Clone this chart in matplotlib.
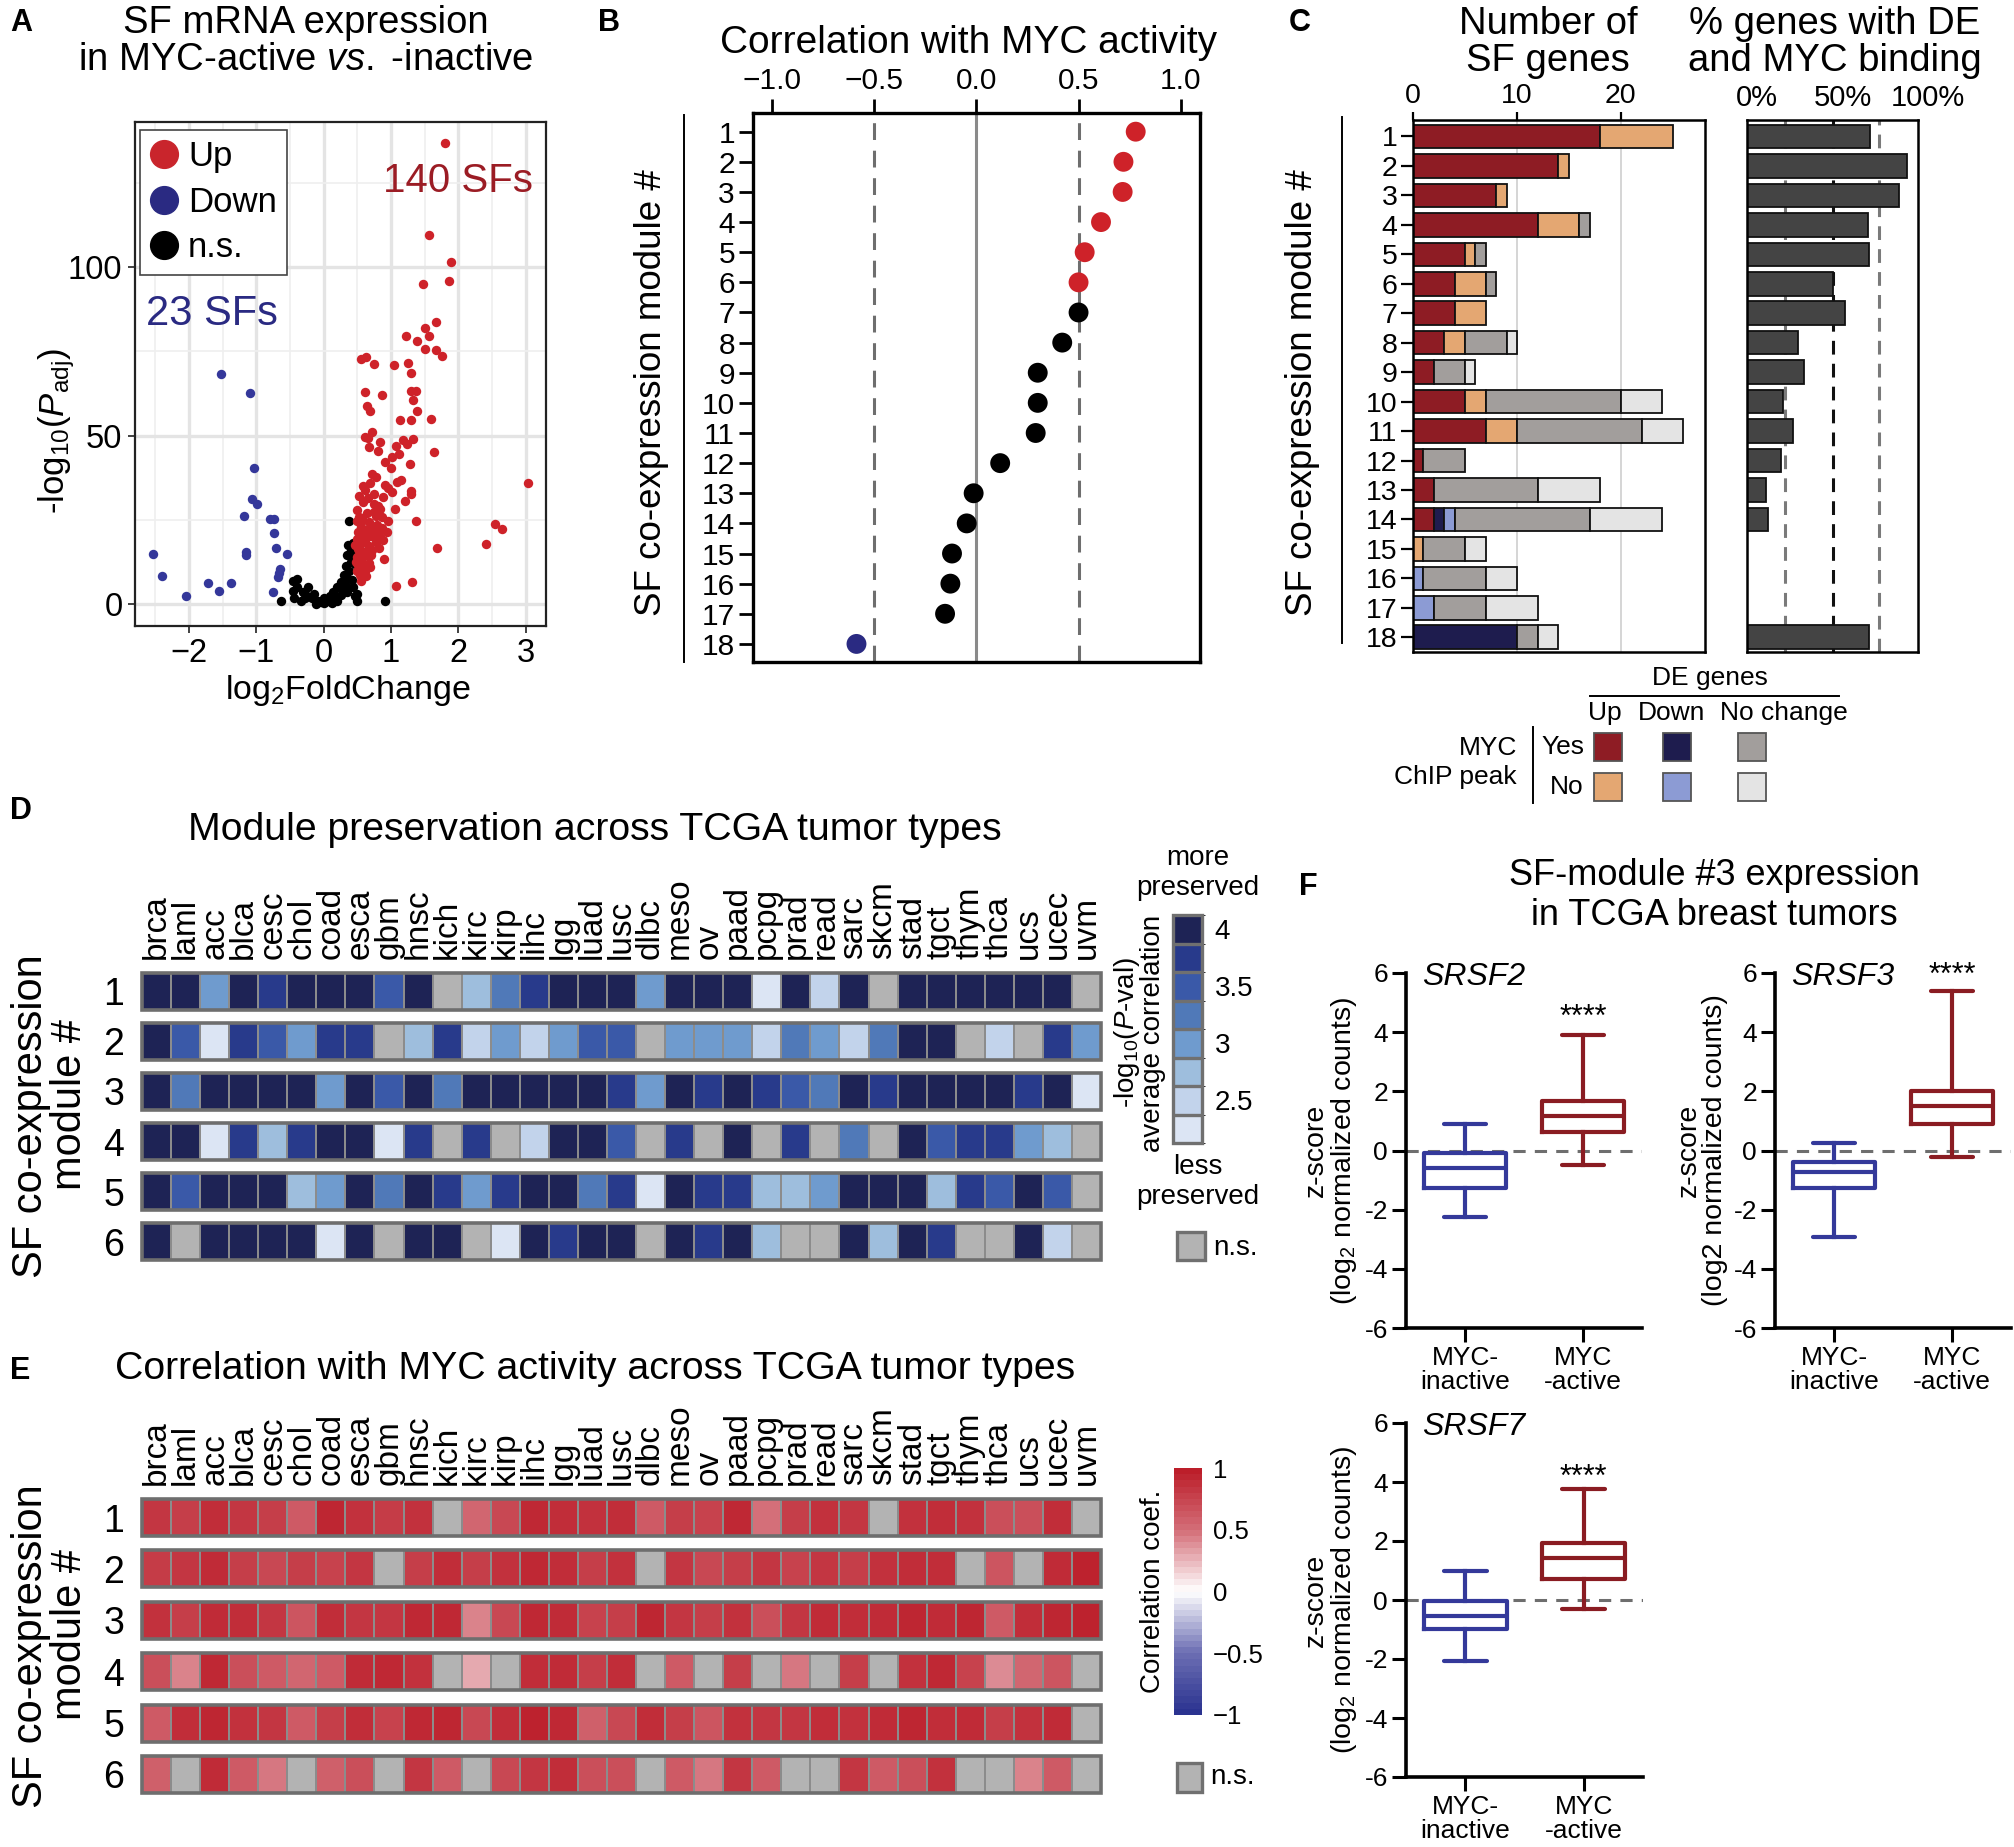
import numpy as np
import matplotlib
matplotlib.use('Agg')
import matplotlib.pyplot as plt
from matplotlib import font_manager as fm
from matplotlib.colors import ListedColormap, BoundaryNorm, LinearSegmentedColormap, Normalize
from matplotlib.patches import Rectangle
from matplotlib.lines import Line2D
from matplotlib.cm import ScalarMappable
import matplotlib.transforms as mtransforms
from matplotlib.ticker import FuncFormatter, FixedLocator, FixedFormatter

# ======================= DATA =======================
# Panel A : volcano plot (log2FoldChange, -log10 Padj)
up_x = [1.80, 1.57, 1.89, 1.86, 1.47, 1.50, 1.66, 1.22, 1.38, 1.56,
        1.51, 1.66, 1.76, 0.55, 0.63, 0.75, 1.05, 1.25, 1.30, 1.30,
        1.37, 1.33, 1.38, 0.61, 0.86, 0.64, 0.69, 1.13, 1.29, 1.60,
        0.72, 0.66, 0.62, 0.83, 1.33, 1.18, 1.24, 1.07, 0.67, 0.80,
        1.64, 1.12, 1.02, 0.91, 1.28, 1.00, 0.72, 0.78, 1.15, 1.09,
        0.69, 0.91, 0.95, 1.01, 0.62, 0.75, 0.52, 1.30, 1.29, 0.88,
        1.20, 0.74, 0.80, 1.06, 0.49, 0.65, 0.86, 1.37, 0.56, 0.68,
        0.79, 0.55, 0.87, 0.64, 0.51, 0.75, 0.59, 0.70, 0.83, 0.49,
        0.62, 0.78, 0.54, 0.67, 1.68, 0.51, 0.72, 0.58, 0.64, 0.49,
        0.90, 0.56, 0.67, 0.51, 0.61, 0.49, 0.55, 0.54, 1.07, 1.31,
        2.41, 2.55, 2.65, 3.03, 0.46, 0.83, 0.96, 0.77, 0.57, 0.71,
        0.82, 0.94, 0.50, 0.62, 0.58, 0.53, 0.60, 0.66, 0.71, 0.57,
        0.63, 0.69, 0.52, 0.74, 0.58, 0.66, 0.81, 0.88, 0.55, 0.48]
up_y = [136.8, 109.5, 101.6, 95.8, 95.0, 81.9, 83.6, 79.7, 78.0, 79.7,
        75.7, 75.3, 73.7, 72.6, 73.4, 71.2, 70.9, 71.5, 68.5, 63.4,
        63.4, 60.7, 57.4, 63.0, 62.2, 58.7, 57.3, 54.6, 54.7, 55.1,
        51.0, 49.2, 49.5, 48.2, 49.1, 48.6, 47.5, 47.1, 46.8, 45.4,
        45.3, 44.7, 43.7, 42.3, 41.7, 40.4, 38.6, 37.9, 36.8, 36.3,
        35.9, 35.5, 34.5, 33.2, 33.8, 32.7, 32.2, 33.6, 32.7, 31.8,
        30.6, 29.7, 29.3, 28.4, 28.1, 27.0, 25.9, 24.8, 24.3, 24.3,
        23.6, 22.9, 22.6, 22.2, 21.6, 21.3, 20.5, 20.2, 19.9, 19.5,
        18.8, 18.4, 17.7, 17.2, 16.8, 16.4, 16.1, 15.4, 14.7, 14.1,
        13.4, 13.1, 12.3, 11.7, 10.9, 10.0, 9.3, 8.6, 5.5, 6.5,
        17.9, 23.9, 22.5, 36.0, 17.5, 28.4, 24.6, 26.3, 25.6, 14.5,
        16.8, 21.6, 24.6, 10.0, 30.5, 26.0, 19.0, 16.0, 23.0, 12.0,
        8.5, 11.0, 14.5, 27.5, 35.0, 31.5, 21.0, 19.0, 7.0, 12.5]
down_x = [-1.53, -1.09, -1.04, -1.06, -0.99, -1.18, -0.80, -0.73, -0.73, -0.71,
          -1.15, -1.15, -0.55, -2.53, -2.40, -1.72, -1.38, -1.55, -2.04, -0.75,
          -0.68, -0.65, -0.66]
down_y = [68.2, 62.8, 40.4, 31.1, 29.7, 26.3, 25.2, 25.2, 21.3, 16.6,
          15.4, 14.5, 15.0, 15.0, 8.3, 6.3, 6.3, 4.1, 2.5, 3.8,
          8.2, 10.6, 9.3]
ns_x = [0.38, 0.43, 0.41, 0.35, 0.40, 0.33, 0.38, 0.30, 0.35, 0.25,
        0.31, 0.20, 0.27, 0.43, 0.46, 0.50, 0.14, 0.09, 0.05, 0.00,
        -0.04, -0.09, -0.17, -0.24, -0.31, -0.39, -0.45, -0.39, -0.46, -0.28,
        -0.34, -0.44, -0.64, 0.91, 0.20, 0.12, -0.12, 0.25, 0.34, 0.49,
        0.42, 0.46, 0.45, 0.36, -0.23, -0.15, 0.01, 0.17]
ns_y = [24.6, 18.1, 16.1, 14.5, 12.7, 11.3, 10.0, 8.6, 7.6, 6.5,
        5.9, 5.2, 4.5, 5.2, 2.5, 1.1, 3.8, 2.5, 1.1, 0.4,
        0.7, 1.1, 1.8, 2.5, 3.8, 5.2, 4.1, 7.6, 6.8, 1.8,
        1.1, 2.0, 1.1, 1.1, 1.1, 0.4, 0.0, 2.7, 3.8, 3.1,
        7.2, 12.0, 14.1, 17.5, 5.2, 3.1, 1.8, 1.8]
a_up_count = '140 SFs'
a_down_count = '23 SFs'

# Panel B : correlation of each SF module with MYC activity
modules = list(range(1, 19))
myc_corr = [0.78, 0.72, 0.716, 0.61, 0.53, 0.50, 0.50, 0.42, 0.30, 0.30,
            0.29, 0.116, -0.014, -0.048, -0.12, -0.128, -0.154, -0.588]
corr_class = ['up'] * 6 + ['ns'] * 11 + ['down']

# Panel C : number of SF genes per module, by DE status and MYC ChIP peak
c_up_yes   = [18, 14, 8, 12, 5, 4, 4, 3, 2, 5, 7, 1, 2, 2, 0, 0, 0, 0]
c_up_no    = [7, 1, 1, 4, 1, 3, 3, 2, 0, 2, 3, 0, 0, 0, 1, 0, 0, 0]
c_down_yes = [0, 0, 0, 0, 0, 0, 0, 0, 0, 0, 0, 0, 0, 1, 0, 0, 0, 10]
c_down_no  = [0, 0, 0, 0, 0, 0, 0, 0, 0, 0, 0, 0, 0, 1, 0, 1, 2, 0]
c_nc_yes   = [0, 0, 0, 1, 1, 1, 0, 4, 3, 13, 12, 4, 10, 13, 4, 6, 5, 2]
c_nc_no    = [0, 0, 0, 0, 0, 0, 0, 1, 1, 4, 4, 0, 6, 7, 2, 3, 5, 2]
c_pct_lines_gray = [22.5, 77.0]
c_pct_line_black = 50.0

# Panels D / E : TCGA tumor types
tumors = ['brca', 'laml', 'acc', 'blca', 'cesc', 'chol', 'coad', 'esca', 'gbm', 'hnsc',
          'kich', 'kirc', 'kirp', 'lihc', 'lgg', 'luad', 'lusc', 'dlbc', 'meso', 'ov',
          'paad', 'pcpg', 'prad', 'read', 'sarc', 'skcm', 'stad', 'tgct', 'thym', 'thca',
          'ucs', 'ucec', 'uvm']
NA = np.nan
# -log10(P-val) average correlation (module preservation); NaN = n.s.
preserv = [
    [4.0, 4.0, 3.0, 4.0, 3.75, 4.0, 4.0, 4.0, 3.5, 4.0, NA, 2.75, 3.25, 3.75, 4.0, 4.0, 4.0, 3.0, 4.0, 4.0,
     4.0, 2.25, 4.0, 2.5, 4.0, NA, 4.0, 4.0, 4.0, 4.0, 4.0, 4.0, NA],
    [4.0, 3.5, 2.25, 3.75, 3.5, 3.0, 3.75, 3.75, NA, 2.75, 3.75, 2.5, 3.0, 2.5, 3.0, 3.5, 3.5, NA, 3.0, 3.0,
     3.0, 2.5, 3.25, 3.0, 2.5, 3.25, 4.0, 4.0, NA, 2.5, NA, 3.75, 3.0],
    [4.0, 3.25, 4.0, 4.0, 4.0, 4.0, 3.0, 4.0, 3.5, 4.0, 3.25, 4.0, 4.0, 4.0, 4.0, 4.0, 3.75, 3.0, 4.0, 3.75,
     4.0, 3.75, 3.5, 3.25, 4.0, 3.75, 4.0, 4.0, 4.0, 4.0, 3.75, 4.0, 2.25],
    [4.0, 4.0, 2.25, 3.75, 2.75, 3.75, 4.0, 4.0, 2.25, 3.75, NA, 3.75, NA, 2.5, 4.0, 4.0, 3.5, NA, 3.75, NA,
     4.0, NA, 3.75, NA, 3.25, NA, 4.0, 3.5, 3.75, 3.75, 3.0, 2.75, NA],
    [4.0, 3.5, 4.0, 4.0, 4.0, 2.75, 3.0, 4.0, 3.25, 4.0, 3.75, 3.0, 3.75, 4.0, 4.0, 3.25, 3.75, 2.25, 4.0, 3.75,
     3.75, 2.75, 2.75, 3.0, 4.0, 4.0, 4.0, 2.75, 3.75, 3.5, 4.0, 3.5, NA],
    [4.0, NA, 4.0, 4.0, 4.0, 4.0, 2.25, 4.0, NA, 4.0, 4.0, NA, 2.25, 4.0, 3.75, 4.0, 4.0, NA, 4.0, 3.75,
     4.0, 2.75, NA, NA, 4.0, 2.75, 4.0, 3.75, NA, NA, 4.0, 2.5, NA],
]
# correlation coefficient with MYC activity; NaN = n.s.
myc_tumor_corr = [
    [0.85, 0.80, 0.90, 0.85, 0.80, 0.63, 0.95, 0.88, 0.82, 0.88, NA, 0.56, 0.74, 0.93, 0.90, 0.88, 0.90, 0.63, 0.80, 0.78,
     0.93, 0.50, 0.80, 0.88, 0.85, NA, 0.88, 0.90, 0.88, 0.70, 0.70, 0.90, NA],
    [0.82, 0.85, 0.92, 0.80, 0.74, 0.80, 0.78, 0.85, NA, 0.80, 0.90, 0.80, 0.88, 0.93, 0.90, 0.80, 0.88, NA, 0.85, 0.74,
     0.80, 0.85, 0.78, 0.85, 0.80, 0.88, 0.90, 0.90, NA, 0.66, NA, 0.92, 0.97],
    [0.88, 0.80, 0.92, 0.90, 0.85, 0.66, 0.90, 0.85, 0.85, 0.93, 0.93, 0.43, 0.74, 0.93, 0.92, 0.78, 0.80, 0.95, 0.85, 0.80,
     0.88, 0.70, 0.85, 0.92, 0.90, 0.92, 0.95, 0.92, 0.95, 0.63, 0.90, 0.95, 0.97],
    [0.70, 0.43, 0.93, 0.70, 0.63, 0.56, 0.63, 0.92, 0.93, 0.88, NA, 0.30, NA, 0.90, 0.92, 0.80, 0.90, NA, 0.63, NA,
     0.80, NA, 0.47, NA, 0.80, NA, 0.88, 0.93, 0.78, 0.40, 0.56, 0.66, NA],
    [0.63, 0.90, 0.95, 0.88, 0.85, 0.63, 0.80, 0.90, 0.78, 0.93, 0.95, 0.74, 0.90, 0.97, 0.93, 0.60, 0.74, 0.90, 0.80, 0.66,
     0.88, 0.85, 0.85, 0.90, 0.88, 0.92, 0.95, 0.90, 0.92, 0.80, 0.88, 0.92, NA],
    [0.60, NA, 0.92, 0.63, 0.47, NA, 0.60, 0.70, NA, 0.85, 0.63, NA, 0.74, 0.85, 0.90, 0.70, 0.70, NA, 0.63, 0.47,
     0.85, 0.63, NA, NA, 0.85, 0.63, 0.70, 0.88, NA, NA, 0.43, 0.63, NA],
]
heat_rows = [1, 2, 3, 4, 5, 6]
preserv_levels = [2.25, 2.5, 2.75, 3.0, 3.25, 3.5, 3.75, 4.0]
preserv_ticks = [2.5, 3.0, 3.5, 4.0]
corr_ticks = [-1, -0.5, 0, 0.5, 1]
corr_ticklabels = ['\u22121', '\u22120.5', '0', '0.5', '1']

# Panel F : box plots (whislo, q1, median, q3, whishi)
f_genes = ['SRSF2', 'SRSF3', 'SRSF7']
f_groups = ['MYC-\ninactive', 'MYC\n-active']
f_inactive = [(-2.26, -1.28, -0.59, -0.10, 0.91),
              (-2.94, -1.28, -0.73, -0.38, 0.27),
              (-2.07, -0.97, -0.54, -0.02, 0.98)]
f_active = [(-0.50, 0.63, 1.17, 1.67, 3.89),
            (-0.22, 0.91, 1.52, 2.01, 5.39),
            (-0.32, 0.70, 1.41, 1.94, 3.75)]
f_star_y = [4.48, 5.90, 4.14]
f_yticks = [-6, -4, -2, 0, 2, 4, 6]

# ======================= STYLE =======================
def has_font(name):
    try:
        fm.findfont(fm.FontProperties(family=name), fallback_to_default=False)
        return True
    except Exception:
        return False

REG = 'Liberation Sans' if has_font('Liberation Sans') else 'DejaVu Sans'
if has_font('Liberation Sans Narrow'):
    NAR, NSC = 'Liberation Sans Narrow', 1.0
else:
    NAR, NSC = REG, 0.83

plt.rcParams.update({
    'font.family': [REG, 'DejaVu Sans'],
    'mathtext.fontset': 'custom',
    'mathtext.rm': REG,
    'mathtext.it': REG + ':italic',
    'mathtext.bf': REG + ':bold',
    'axes.unicode_minus': True,
})

W, H, DPI = 2015, 1847, 100
fig = plt.figure(figsize=(W / DPI, H / DPI), dpi=DPI)
fig.patch.set_facecolor('white')


def px_axes(l, t, r, b):
    return fig.add_axes([l / W, 1 - b / H, (r - l) / W, (b - t) / H])


def ftext(x, y, s, **kw):
    kw.setdefault('ha', 'center')
    kw.setdefault('va', 'center')
    return fig.text(x / W, 1 - y / H, s, **kw)


def fline(xs, ys, **kw):
    fig.add_artist(Line2D([x / W for x in xs], [1 - y / H for y in ys],
                          transform=fig.transFigure, **kw))


def frect(x0, y0, x1, y1, **kw):
    fig.add_artist(Rectangle((x0 / W, 1 - y1 / H), (x1 - x0) / W, (y1 - y0) / H,
                             transform=fig.transFigure, **kw))


RED_PT = '#CE2229'
BLUE_PT = '#34379A'
NAVY = '#2A2A82'
DARKRED_TXT = '#9B1C24'

# panel letters
for lx, ly, L in [(10, 23, 'A'), (598, 23, 'B'), (1289, 23, 'C'),
                  (10, 811, 'D'), (10, 1371, 'E'), (1299, 887, 'F')]:
    ftext(lx, ly, L, ha='left', fontsize=22, fontweight='bold')

# ======================= PANEL A =======================
ftext(306, 23, 'SF mRNA expression', fontsize=27.5)
ftext(306, 60, r'in MYC-active $\mathit{vs.}\;$-inactive', fontsize=27.5)
axA = px_axes(135, 122, 546, 626)
axA.set_xlim(-2.8, 3.3)
axA.set_ylim(-6.4, 143)
axA.set_xticks([-2, -1, 0, 1, 2, 3])
axA.set_yticks([0, 50, 100])
axA.set_xticks([-2.5, -1.5, -0.5, 0.5, 1.5, 2.5], minor=True)
axA.set_yticks([25, 75, 125], minor=True)
axA.grid(which='major', color='#E4E4E4', lw=2.4)
axA.grid(which='minor', color='#EFEFEF', lw=1.2)
axA.set_axisbelow(True)
axA.tick_params(which='minor', length=0)
axA.tick_params(which='major', length=5, width=1.3, color='#333333', labelsize=23.5, pad=4)
for s in axA.spines.values():
    s.set_linewidth(1.6)
    s.set_color('#222222')
axA.scatter(ns_x, ns_y, s=46, color='black', lw=0, zorder=3)
axA.scatter(up_x, up_y, s=46, color=RED_PT, lw=0, zorder=3)
axA.scatter(down_x, down_y, s=46, color=BLUE_PT, lw=0, zorder=3)
hA = [Line2D([], [], ls='', marker='o', ms=20, color=c) for c in ('#C9252C', NAVY, 'black')]
leg = axA.legend(hA, ['Up', 'Down', 'n.s.'], loc='upper left', bbox_to_anchor=(0.011, 0.984),
                 fontsize=25, frameon=True, fancybox=False, edgecolor='#444444', framealpha=1,
                 handlelength=0.8, handletextpad=0.3, labelspacing=0.36, borderpad=0.3,
                 borderaxespad=0)
leg.get_frame().set_linewidth(1.2)
axA.text(0.968, 0.883, a_up_count, transform=axA.transAxes, ha='right', va='center',
         fontsize=29, color=DARKRED_TXT)
axA.text(0.027, 0.62, a_down_count, transform=axA.transAxes, ha='left', va='center',
         fontsize=30, color=NAVY)
ftext(57, 431, r'-log$_{10}$($P_{\mathrm{adj}}$)', rotation=90, fontsize=25)
ftext(348, 690, r'log$_2$FoldChange', fontsize=24.5)

# ======================= PANEL B =======================
ftext(969, 43, 'Correlation with MYC activity', fontsize=28)
axB = px_axes(753, 113, 1200, 662)
axB.axvline(0, color='#8A8A8A', lw=2.2, zorder=1)
for v in (-0.5, 0.5):
    axB.axvline(v, color='#6E6E6E', lw=2.2, ls=(0, (5.5, 3.5)), zorder=1)
colsB = [{'up': RED_PT, 'ns': 'black', 'down': NAVY}[c] for c in corr_class]
axB.scatter(myc_corr, modules, s=205, c=colsB, lw=0, zorder=3)
axB.set_xlim(-1.095, 1.095)
axB.set_ylim(18.6, 0.38)
axB.xaxis.tick_top()
axB.set_xticks([-1, -0.5, 0, 0.5, 1])
axB.xaxis.set_major_formatter(FuncFormatter(lambda v, p: f'{v:.1f}'.replace('-', '\u2212')))
axB.set_yticks(modules)
axB.tick_params(length=10, width=2.0, labelsize=21.5, pad=3)
for s in axB.spines.values():
    s.set_linewidth(2.4)
ftext(652, 393, 'SF co-expression module #', rotation=90, fontsize=26.5)
fline([684, 684], [115, 662], color='black', lw=1.4)

# ======================= PANEL C =======================
ftext(1548, 24, 'Number of', fontsize=27.5)
ftext(1548, 61, 'SF genes', fontsize=27.5)
ftext(1835, 24, '% genes with DE', fontsize=27.5)
ftext(1835, 61, 'and MYC binding', fontsize=27.5)
axC1 = px_axes(1413, 120, 1705, 652)
for v in (10, 20):
    axC1.axvline(v, color='#D2D2D2', lw=1.3, zorder=0)
stack = [(c_up_yes, '#8E1C24'), (c_up_no, '#E4A772'), (c_down_yes, '#1E1C4E'),
         (c_down_no, '#8C9BD4'), (c_nc_yes, '#A29E9C'), (c_nc_no, '#E4E4E4')]
left = np.zeros(len(modules))
mod_arr = np.array(modules)
for vals, col in stack:
    vals = np.array(vals, dtype=float)
    m = vals > 0
    axC1.barh(mod_arr[m], vals[m], left=left[m], height=0.8, color=col,
              edgecolor='#111111', lw=1.3, zorder=2)
    left += vals
axC1.set_xlim(0, 28.1)
axC1.set_ylim(18.5, 0.44)
axC1.xaxis.tick_top()
axC1.set_xticks([0, 10, 20])
axC1.set_yticks(modules)
axC1.tick_params(axis='x', length=6, width=1.6, labelsize=20.5, pad=2)
axC1.tick_params(axis='y', length=9, width=1.6, labelsize=20.5, pad=2)
for s in axC1.spines.values():
    s.set_linewidth(1.8)

pct = (np.array(c_up_yes) + np.array(c_down_yes)) / left * 100
axC2 = px_axes(1747, 120, 1918, 652)
for v in c_pct_lines_gray:
    axC2.axvline(v, color='#7A7A7A', lw=2.2, ls=(0, (4.5, 3)), zorder=1)
axC2.axvline(c_pct_line_black, color='#111111', lw=2.2, ls=(0, (4.5, 3)), zorder=1)
m = pct > 0
axC2.barh(mod_arr[m], pct[m], height=0.8, color='#444444', edgecolor='#111111', lw=1.3, zorder=2)
axC2.set_xlim(0, 100)
axC2.set_ylim(18.5, 0.44)
axC2.xaxis.tick_top()
axC2.set_xticks([0, 50, 100])
axC2.set_xticklabels(['0%', '50%', '100%'])
axC2.set_yticks([])
axC2.tick_params(axis='x', length=0, labelsize=21, pad=6)
off = mtransforms.ScaledTranslation(10 / DPI, 0, fig.dpi_scale_trans)
for lab in axC2.get_xticklabels():
    lab.set_transform(lab.get_transform() + off)
for s in axC2.spines.values():
    s.set_linewidth(1.8)
ftext(1302, 393, 'SF co-expression module #', rotation=90, fontsize=26.5)
fline([1342, 1342], [117, 643], color='black', lw=1.4)

# legend of C
ftext(1710, 678, 'DE genes', fontsize=19)
fline([1590, 1839], [696, 696], color='black', lw=1.4)
for x, s in [(1605, 'Up'), (1672, 'Down'), (1784, 'No change')]:
    ftext(x, 713, s, fontsize=19)
ftext(1517, 748, 'MYC', ha='right', fontsize=19)
ftext(1517, 777, 'ChIP peak', ha='right', fontsize=19)
fline([1533, 1533], [727, 803], color='black', lw=1.4)
ftext(1584, 747, 'Yes', ha='right', fontsize=19)
ftext(1584, 787, 'No', ha='right', fontsize=19)
leg_cols = [['#8E1C24', '#1E1C4E', '#A29E9C'], ['#E4A772', '#8C9BD4', '#E4E4E4']]
for ri, yc in enumerate([747, 787]):
    for ci, xc in enumerate([1608, 1677, 1752]):
        frect(xc - 14, yc - 14, xc + 14, yc + 14, facecolor=leg_cols[ri][ci],
              edgecolor='#555555', lw=1.3)

# ======================= PANELS D / E =======================
D_COLS = ['#DCE5F4', '#C2D3EB', '#9EBEDD', '#6F9BCE', '#5079B8', '#3A59A8', '#283A8B', '#1E2355']
cmapD = ListedColormap(D_COLS)
cmapD.set_bad('#B3B3B3')
boundsD = [lv - 0.125 for lv in preserv_levels] + [preserv_levels[-1] + 0.125]
normD = BoundaryNorm(boundsD, len(D_COLS))

cmapE = LinearSegmentedColormap.from_list(
    'rwb', [(0, '#2B3390'), (0.25, '#6E70B4'), (0.5, '#FFFFFF'), (0.75, '#D4707A'), (1, '#BC1E2A')])
cmapE.set_bad('#B3B3B3')
normE = Normalize(-1, 1)


def heat(ax, data, cmap, norm, hh):
    data = np.array(data, dtype=float)
    nr, nc = data.shape
    for i in range(nr):
        y = heat_rows[i]
        ax.pcolormesh(np.arange(nc + 1), [y - hh, y + hh], data[i:i + 1], cmap=cmap, norm=norm,
                      edgecolors='#8C8C8C', linewidth=1.3)
        ax.add_patch(Rectangle((0, y - hh), nc, 2 * hh, fill=False, ec='#6E6E6E', lw=2.6,
                               zorder=3, clip_on=False))
    ax.set_xlim(0, nc)
    ax.set_ylim(heat_rows[-1] + hh, heat_rows[0] - hh)
    ax.xaxis.tick_top()
    ax.set_xticks(np.arange(nc) + 0.5)
    ax.set_xticklabels(tumors, rotation=90, fontfamily=NAR, fontsize=29 * NSC)
    ax.set_yticks(heat_rows)
    ax.set_yticklabels([str(r) for r in heat_rows], fontfamily=NAR, fontsize=27)
    ax.tick_params(axis='x', length=0, pad=10)
    ax.tick_params(axis='y', length=0, pad=13)
    for s in ax.spines.values():
        s.set_visible(False)


# D
ftext(595, 830, 'Module preservation across TCGA tumor types', fontfamily=NAR, fontsize=34 * NSC)
axD = px_axes(142, 973, 1101, 1260)
heat(axD, preserv, cmapD, normD, 0.367)
ftext(31, 1116, 'SF co-expression', rotation=90, fontsize=30)
ftext(70, 1104, 'module #', rotation=90, fontsize=30)

caxD = px_axes(1173, 915, 1202, 1143)
cbD = fig.colorbar(ScalarMappable(norm=normD, cmap=cmapD), cax=caxD, drawedges=True,
                   ticks=preserv_ticks)
cbD.outline.set_edgecolor('#707070')
cbD.outline.set_linewidth(2.4)
cbD.dividers.set_color('#707070')
cbD.dividers.set_linewidth(2.4)
caxD.yaxis.set_major_formatter(FuncFormatter(lambda v, p: f'{v:g}'))
caxD.tick_params(length=0, labelsize=20, pad=9)
ftext(1198, 858, 'more', fontsize=20)
ftext(1198, 888, 'preserved', fontsize=20)
ftext(1198, 1167, 'less', fontsize=20)
ftext(1198, 1197, 'preserved', fontsize=20)
ftext(1127, 1033, r'-log$_{10}$($P$-val)', rotation=90, fontsize=20)
ftext(1153, 1033, 'average correlation', rotation=90, fontsize=20)
frect(1177, 1232, 1205, 1260, facecolor='#B3B3B3', edgecolor='#707070', lw=2.4)
ftext(1213, 1248, 'n.s.', ha='left', fontsize=20)

# E
ftext(595, 1369, 'Correlation with MYC activity across TCGA tumor types', fontfamily=NAR,
      fontsize=34 * NSC)
axE = px_axes(142, 1499, 1101, 1793)
heat(axE, myc_tumor_corr, cmapE, normE, 0.36)
ftext(31, 1646, 'SF co-expression', rotation=90, fontsize=30)
ftext(70, 1634, 'module #', rotation=90, fontsize=30)

caxE = px_axes(1174, 1468, 1202, 1715)
cbE = fig.colorbar(ScalarMappable(norm=normE, cmap=cmapE.resampled(40)), cax=caxE, ticks=corr_ticks)
cbE.outline.set_visible(False)
caxE.yaxis.set_major_formatter(FixedFormatter(corr_ticklabels))
caxE.tick_params(length=0, labelsize=18.5, pad=8)
ftext(1153, 1591, 'Correlation coef.', rotation=90, fontsize=20)
frect(1177, 1763, 1202, 1792, facecolor='#B3B3B3', edgecolor='#707070', lw=2.4)
ftext(1210, 1777, 'n.s.', ha='left', fontsize=20)

# ======================= PANEL F =======================
ftext(1714, 876, 'SF-module #3 expression', fontsize=26)
ftext(1714, 915, 'in TCGA breast tumors', fontsize=26)
BLUE_F = '#34399A'
RED_F = '#8A1C22'
f_axes = [px_axes(1406, 973, 1642, 1328), px_axes(1775, 973, 2011, 1328),
          px_axes(1406, 1423, 1643, 1777)]
f_ylabels = ['z-score\n(log$_2$ normalized counts)', 'z-score\n(log2 normalized counts)',
             'z-score\n(log$_2$ normalized counts)']
for k, ax in enumerate(f_axes):
    ax.axhline(0, color='#6E6E6E', lw=2.2, ls=(0, (4, 3)), zorder=0.5)
    for stats, pos, col in [(f_inactive[k], 1, BLUE_F), (f_active[k], 2, RED_F)]:
        st = dict(whislo=stats[0], q1=stats[1], med=stats[2], q3=stats[3], whishi=stats[4], fliers=[])
        lp = dict(color=col, lw=3.0)
        ax.bxp([st], positions=[pos], widths=0.70, capwidths=0.36, showfliers=False,
               boxprops=lp, whiskerprops=lp, capprops=dict(color=col, lw=3.0, solid_capstyle='round'),
               medianprops=lp, manage_ticks=False)
    ax.text(2, f_star_y[k], '****', ha='center', va='center', fontsize=22)
    ax.text(0.64, 5.85, f_genes[k], ha='left', va='center', fontsize=23, style='italic')
    ax.set_xlim(0.5, 2.5)
    ax.set_ylim(-6, 6)
    ax.set_xticks([1, 2])
    ax.set_xticklabels(f_groups, fontsize=21, linespacing=1.0)
    ax.set_yticks(f_yticks)
    ax.yaxis.set_major_formatter(FuncFormatter(lambda v, p: f'{v:g}'))
    ax.tick_params(length=10, width=2.2, labelsize=19, pad=3)
    ax.spines['top'].set_visible(False)
    ax.spines['right'].set_visible(False)
    ax.spines['left'].set_linewidth(2.6)
    ax.spines['bottom'].set_linewidth(2.6)
    ax.set_ylabel(f_ylabels[k], fontsize=20.5, linespacing=1.0, labelpad=4)

fig.savefig('out.png', dpi=DPI, facecolor='white')
